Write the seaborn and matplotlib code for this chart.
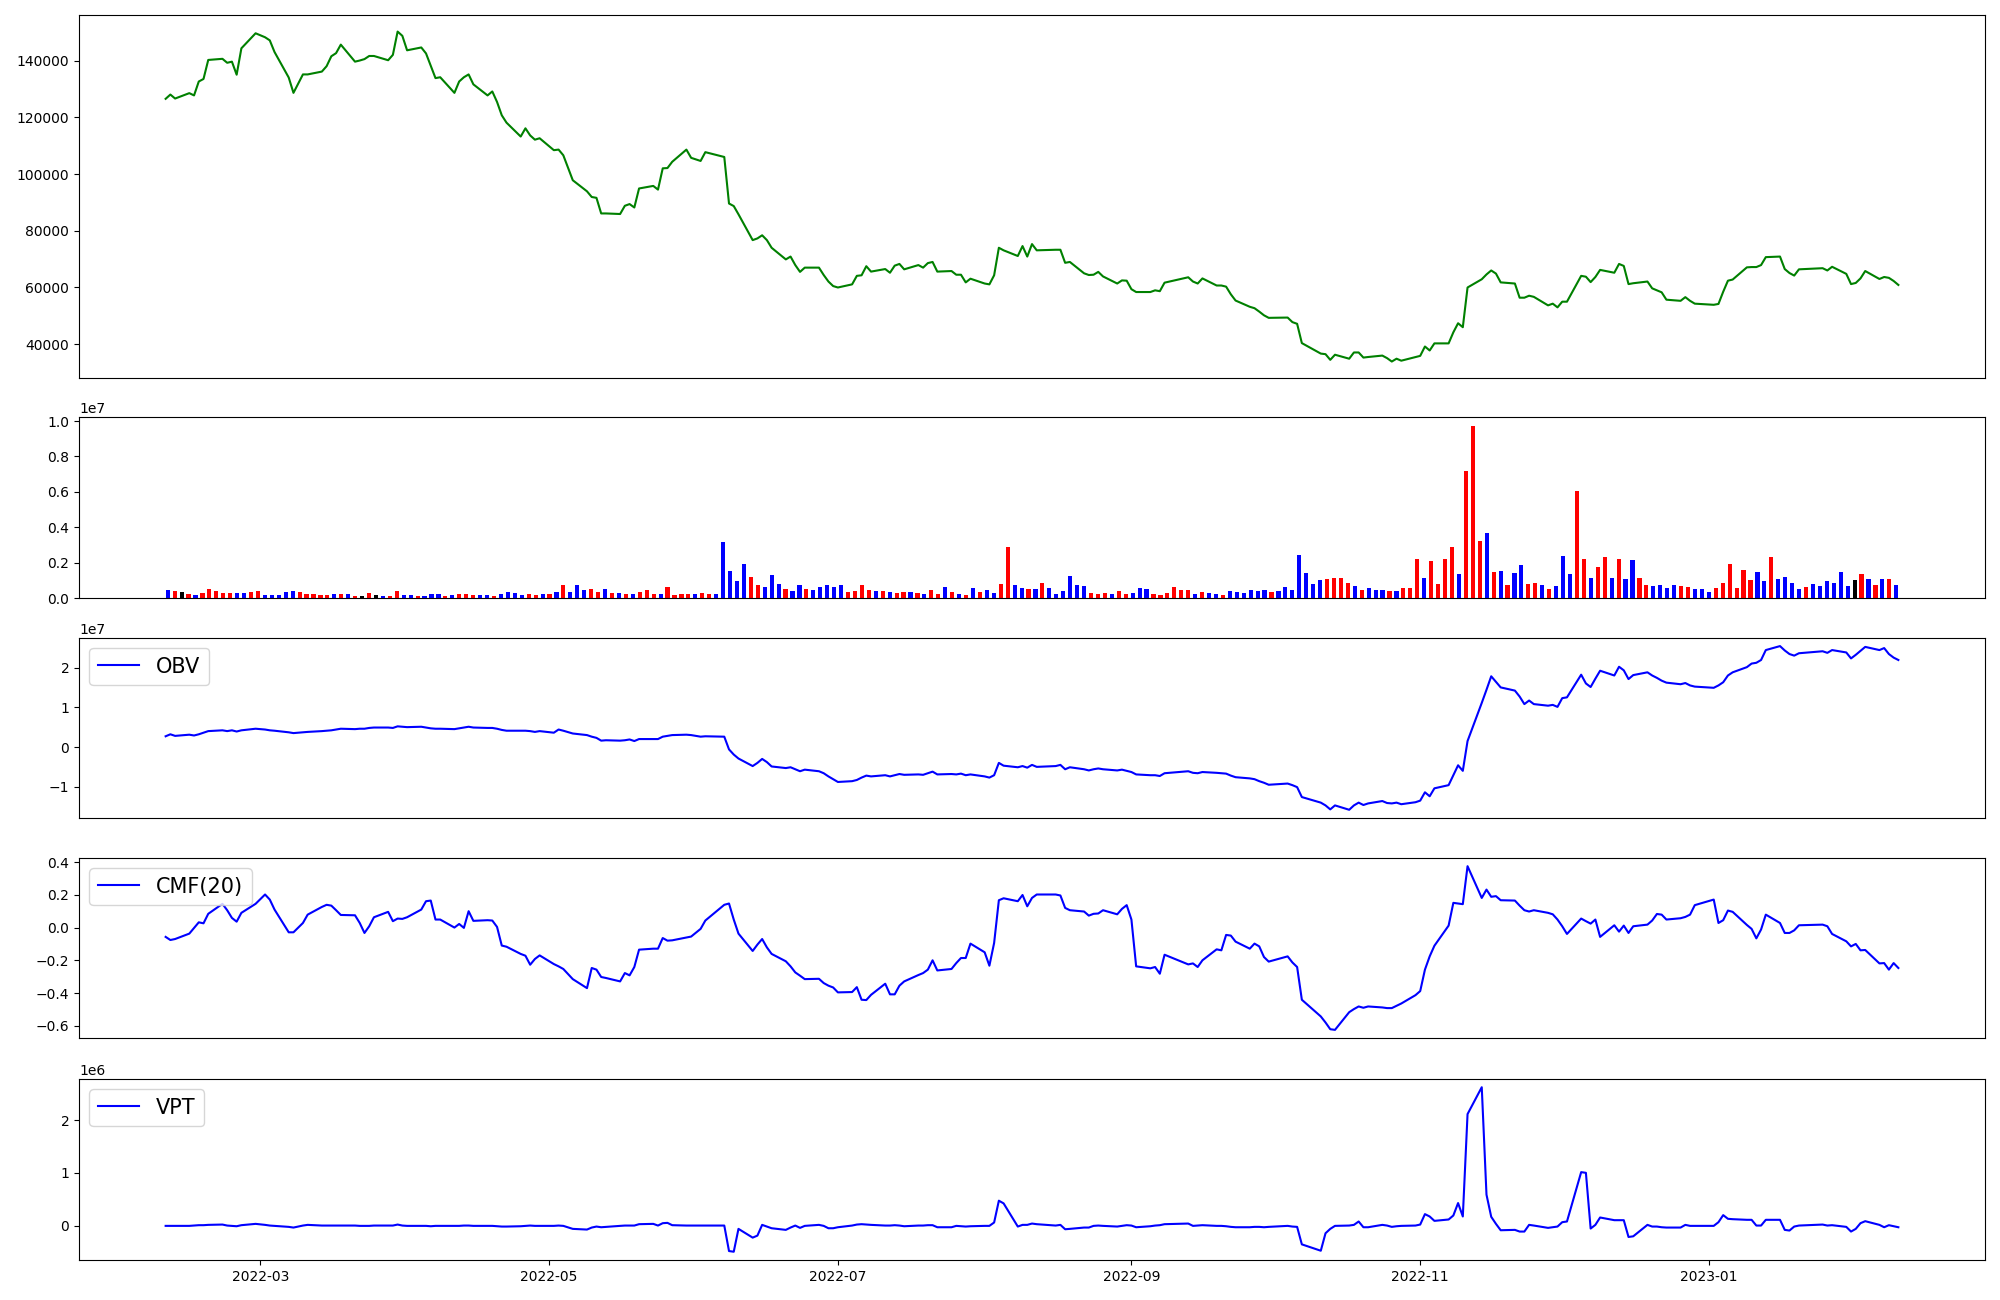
import numpy as np
import pandas as pd
import matplotlib
matplotlib.use("Agg")
import matplotlib.pyplot as plt
import seaborn as sns

# ---------------- data ----------------
market_holidays = ["2022-03-01", "2022-03-09", "2022-05-05", "2022-06-01", "2022-06-06",
                   "2022-08-15", "2022-09-09", "2022-09-12", "2022-10-03", "2022-10-10",
                   "2022-12-30", "2023-01-23", "2023-01-24"]
dates = pd.bdate_range("2022-02-09", "2023-02-10", freq="C", holidays=market_holidays)

close = [
    126500, 128000, 126600, 128500, 127700, 132600, 133500, 140200, 140600, 139200,
    139600, 135000, 144300, 149600, 148200, 147100, 143000, 134000, 128600, 135100,
    135100, 136100, 138000, 141500, 142600, 145600, 139600, 140000, 140500, 141600,
    141600, 140100, 142000, 150200, 148700, 143600, 144600, 142500, 138200, 133800,
    134100, 128600, 132600, 134100, 135100, 131600, 127700, 129100, 125400, 120700,
    118100, 113200, 116100, 113600, 112100, 112600, 108400, 108600, 106600, 97800,
    93900, 91900, 91600, 86100, 86100, 85900, 88800, 89400, 88200, 94900,
    95800, 94500, 102000, 102100, 104300, 108600, 105700, 104600, 107700, 106000,
    89600, 88700, 85800, 76700, 77300, 78400, 76700, 74000, 69900, 70900,
    67900, 65500, 67000, 67000, 64400, 62100, 60500, 60000, 61100, 64100,
    64300, 67500, 65600, 66500, 65200, 67700, 68300, 66400, 67900, 67000,
    68600, 69000, 65600, 65800, 64500, 64500, 61800, 63100, 61400, 61100,
    64300, 74000, 73100, 71100, 74600, 70900, 75300, 73100, 73300, 73300,
    68700, 69000, 65000, 64400, 64500, 65500, 63900, 61400, 62500, 62400,
    59400, 58400, 58400, 59000, 58700, 61700, 63600, 62100, 61400, 63200,
    60700, 60700, 60300, 57600, 55400, 53200, 52700, 51500, 50200, 49300,
    49400, 47800, 47200, 40400, 36700, 36500, 34500, 36300, 34900, 37100,
    37100, 35300, 35500, 36000, 35100, 33900, 34900, 34200, 35500, 35900,
    39200, 37800, 40300, 40300, 44200, 47400, 46000, 60000, 62900, 64600,
    66000, 64900, 61800, 61400, 56400, 56400, 57100, 56700, 53700, 54300,
    53000, 55000, 55000, 64100, 63800, 61900, 63700, 66200, 65200, 68300,
    67600, 61200, 61500, 62100, 59700, 59000, 58300, 55700, 55300, 56600,
    55300, 54300, 53900, 54200, 58500, 62400, 62800, 67100, 67200, 67200,
    67900, 70700, 70900, 66500, 65100, 64200, 66400, 66800, 66000, 67300,
    64800, 61200, 61600, 63200, 65800, 63000, 63700, 63400, 62300, 60900,
]

# volume in millions of shares
volume_m = [
    0.43, 0.38, 0.32, 0.21, 0.15, 0.26, 0.49, 0.38, 0.26, 0.26,
    0.26, 0.26, 0.32, 0.38, 0.15, 0.15, 0.15, 0.32, 0.38, 0.32,
    0.21, 0.21, 0.15, 0.15, 0.21, 0.21, 0.21, 0.09, 0.09, 0.26,
    0.15, 0.09, 0.09, 0.38, 0.15, 0.15, 0.09, 0.09, 0.21, 0.21,
    0.09, 0.15, 0.21, 0.21, 0.15, 0.15, 0.15, 0.09, 0.21, 0.32,
    0.26, 0.15, 0.21, 0.15, 0.21, 0.21, 0.32, 0.71, 0.32, 0.71,
    0.43, 0.49, 0.32, 0.49, 0.26, 0.26, 0.21, 0.21, 0.32, 0.43,
    0.21, 0.21, 0.60, 0.15, 0.21, 0.21, 0.21, 0.26, 0.21, 0.21,
    3.14, 1.50, 0.94, 1.90, 1.17, 0.71, 0.60, 1.28, 0.77, 0.49,
    0.38, 0.71, 0.49, 0.43, 0.60, 0.71, 0.60, 0.71, 0.32, 0.38,
    0.71, 0.43, 0.38, 0.38, 0.32, 0.26, 0.32, 0.32, 0.26, 0.21,
    0.43, 0.21, 0.60, 0.32, 0.21, 0.15, 0.55, 0.32, 0.43, 0.26,
    0.77, 2.91, 0.71, 0.55, 0.49, 0.49, 0.83, 0.55, 0.21, 0.38,
    1.22, 0.71, 0.66, 0.26, 0.21, 0.26, 0.21, 0.38, 0.21, 0.26,
    0.55, 0.49, 0.21, 0.15, 0.26, 0.60, 0.43, 0.43, 0.21, 0.32,
    0.26, 0.21, 0.15, 0.38, 0.32, 0.26, 0.43, 0.38, 0.43, 0.32,
    0.38, 0.60, 0.43, 2.41, 1.39, 0.77, 1.00, 1.05, 1.11, 1.11,
    0.83, 0.66, 0.43, 0.55, 0.43, 0.43, 0.38, 0.38, 0.55, 0.55,
    2.18, 1.11, 2.07, 0.77, 2.18, 2.86, 1.33, 7.20, 9.74, 3.20,
    3.70, 1.45, 1.50, 0.71, 1.39, 1.84, 0.77, 0.83, 0.71, 0.49,
    0.66, 2.35, 1.33, 6.07, 2.18, 1.11, 1.73, 2.29, 1.11, 2.18,
    1.05, 2.12, 1.11, 0.71, 0.66, 0.71, 0.55, 0.71, 0.66, 0.60,
    0.49, 0.49, 0.32, 0.55, 0.83, 1.90, 0.55, 1.56, 1.00, 1.45,
    0.94, 2.29, 1.05, 1.17, 0.83, 0.49, 0.60, 0.77, 0.66, 0.94,
    0.83, 1.45, 0.66, 1.00, 1.33, 1.05, 0.71, 1.05, 1.05, 0.71,
]

# bar colour code per day: r = up, b = down, k = unchanged
bar_dir = ("brkrbrrrrr" "bbrrbbbbbr" "rrrrbrbrkr" "kbrrbbrbbb" "rbrrrbbrbb"
           "bbrrbrbrbb" "brrbrbrbrr" "rbrrrrbrrb" "bbbbrrbbbr" "bbrbbbbbrr"
           "rrbrbrrbrb" "rrbrbrbrbb" "rrbbrbrbbb" "bbbrrrbrrb" "bbrrrrrrbr"
           "bbrbbbbbbr" "bbbbbbbrrr" "rbrbbbrbrr" "rbrrrrbrrr" "brbrbbrrbr"
           "bbbrrbrrbr" "bbrrbbbbrr" "bbbrrrrrrb" "brbbbbrbbb" "bbbkrbrbrb")

# OBV in units of 1e7
obv_e7 = [
    0.27, 0.32, 0.28, 0.31, 0.29, 0.32, 0.36, 0.40, 0.42, 0.40,
    0.42, 0.39, 0.42, 0.46, 0.44, 0.42, 0.41, 0.37, 0.35, 0.37,
    0.38, 0.40, 0.41, 0.42, 0.44, 0.46, 0.45, 0.46, 0.46, 0.48,
    0.49, 0.49, 0.48, 0.52, 0.51, 0.50, 0.51, 0.49, 0.47, 0.46,
    0.46, 0.45, 0.47, 0.49, 0.51, 0.49, 0.48, 0.48, 0.46, 0.43,
    0.41, 0.41, 0.41, 0.40, 0.38, 0.40, 0.36, 0.44, 0.41, 0.34,
    0.30, 0.26, 0.23, 0.16, 0.17, 0.16, 0.17, 0.19, 0.15, 0.20,
    0.20, 0.20, 0.26, 0.28, 0.30, 0.31, 0.30, 0.26, 0.27, 0.26,
    -0.06, -0.19, -0.29, -0.48, -0.40, -0.30, -0.38, -0.49, -0.53, -0.51,
    -0.56, -0.61, -0.57, -0.61, -0.66, -0.74, -0.81, -0.88, -0.86, -0.83,
    -0.77, -0.72, -0.74, -0.71, -0.74, -0.71, -0.68, -0.70, -0.69, -0.70,
    -0.66, -0.62, -0.69, -0.68, -0.69, -0.67, -0.71, -0.69, -0.74, -0.77,
    -0.71, -0.40, -0.47, -0.51, -0.48, -0.52, -0.45, -0.50, -0.48, -0.45,
    -0.56, -0.51, -0.56, -0.59, -0.56, -0.54, -0.56, -0.59, -0.57, -0.60,
    -0.63, -0.69, -0.71, -0.71, -0.73, -0.66, -0.61, -0.65, -0.66, -0.63,
    -0.65, -0.66, -0.67, -0.72, -0.76, -0.79, -0.81, -0.86, -0.90, -0.95,
    -0.92, -0.96, -1.01, -1.26, -1.40, -1.47, -1.57, -1.47, -1.58, -1.47,
    -1.40, -1.46, -1.42, -1.36, -1.41, -1.42, -1.40, -1.44, -1.39, -1.35,
    -1.14, -1.24, -1.04, -0.96, -0.71, -0.46, -0.60, 0.15, 1.11, 1.44,
    1.78, 1.64, 1.50, 1.42, 1.27, 1.08, 1.17, 1.08, 1.04, 1.06,
    1.01, 1.23, 1.25, 1.82, 1.60, 1.51, 1.72, 1.92, 1.80, 2.02,
    1.93, 1.71, 1.81, 1.88, 1.80, 1.74, 1.67, 1.62, 1.58, 1.61,
    1.55, 1.52, 1.49, 1.55, 1.63, 1.80, 1.88, 2.01, 2.10, 2.12,
    2.19, 2.44, 2.54, 2.43, 2.34, 2.30, 2.36, 2.41, 2.37, 2.44,
    2.38, 2.23, 2.32, 2.42, 2.52, 2.44, 2.49, 2.34, 2.25, 2.19,
]

cmf20 = [
    -0.056, -0.075, -0.069, -0.036, -0.001, 0.033, 0.027, 0.085, 0.146, 0.107,
    0.060, 0.037, 0.091, 0.146, 0.203, 0.172, 0.111, -0.028, -0.028, 0.029,
    0.080, 0.127, 0.140, 0.135, 0.107, 0.078, 0.076, 0.029, -0.032, 0.009,
    0.064, 0.097, 0.040, 0.056, 0.054, 0.064, 0.111, 0.162, 0.166, 0.050,
    0.050, 0.001, 0.023, -0.001, 0.101, 0.042, 0.046, 0.044, 0.005, -0.109,
    -0.116, -0.160, -0.171, -0.226, -0.191, -0.169, -0.222, -0.236, -0.252, -0.314,
    -0.369, -0.246, -0.256, -0.301, -0.307, -0.328, -0.277, -0.291, -0.240, -0.134,
    -0.128, -0.128, -0.063, -0.079, -0.077, -0.060, -0.054, -0.007, 0.044, 0.140,
    0.148, 0.050, -0.036, -0.142, -0.103, -0.069, -0.120, -0.160, -0.205, -0.236,
    -0.273, -0.293, -0.314, -0.312, -0.338, -0.354, -0.365, -0.395, -0.393, -0.363,
    -0.440, -0.442, -0.410, -0.342, -0.407, -0.407, -0.354, -0.328, -0.289, -0.277,
    -0.256, -0.199, -0.261, -0.252, -0.216, -0.185, -0.185, -0.097, -0.150, -0.232,
    -0.093, 0.168, 0.180, 0.162, 0.200, 0.131, 0.182, 0.203, 0.203, 0.197,
    0.121, 0.107, 0.099, 0.074, 0.085, 0.087, 0.107, 0.082, 0.115, 0.138,
    0.050, -0.236, -0.248, -0.240, -0.281, -0.165, -0.224, -0.218, -0.240, -0.199,
    -0.132, -0.138, -0.044, -0.048, -0.085, -0.128, -0.097, -0.114, -0.179, -0.207,
    -0.175, -0.212, -0.240, -0.440, -0.542, -0.579, -0.620, -0.624, -0.516, -0.497,
    -0.481, -0.489, -0.481, -0.487, -0.491, -0.491, -0.477, -0.463, -0.412, -0.387,
    -0.256, -0.175, -0.110, 0.013, 0.152, 0.148, 0.144, 0.376, 0.182, 0.233,
    0.189, 0.193, 0.168, 0.166, 0.135, 0.107, 0.099, 0.107, 0.091, 0.082,
    0.050, 0.009, -0.038, 0.056, 0.040, 0.025, 0.050, -0.056, 0.015, -0.024,
    0.013, -0.032, 0.009, 0.019, 0.044, 0.084, 0.080, 0.050, 0.058, 0.066,
    0.080, 0.138, 0.172, 0.029, 0.046, 0.105, 0.097, 0.017, -0.007, -0.065,
    -0.011, 0.080, 0.029, -0.032, -0.032, -0.016, 0.015, 0.019, 0.009, -0.038,
    -0.083, -0.114, -0.099, -0.138, -0.136, -0.218, -0.216, -0.256, -0.216, -0.246,
]

# VPT in units of 1e6
vpt_e6 = [
    -0.004, -0.004, -0.004, -0.004, 0.002, 0.009, 0.009, 0.015, 0.021, 0.002,
    -0.004, -0.011, 0.009, 0.034, 0.015, 0.002, -0.004, -0.023, -0.036, 0.002,
    0.015, 0.002, 0.002, 0.002, 0.002, 0.002, 0.002, -0.004, -0.004, -0.004,
    0.002, 0.002, 0.002, 0.021, 0.002, -0.004, -0.004, -0.004, -0.011, -0.004,
    -0.004, -0.004, -0.004, 0.002, 0.002, -0.004, -0.004, -0.004, -0.011, -0.017,
    -0.017, -0.011, -0.004, 0.002, -0.004, -0.004, -0.004, 0.002, -0.004, -0.061,
    -0.074, -0.036, -0.017, -0.030, -0.023, -0.004, 0.002, 0.002, 0.002, 0.028,
    0.034, 0.002, 0.047, 0.053, 0.009, 0.002, 0.002, 0.002, 0.002, 0.002,
    -0.482, -0.495, -0.061, -0.227, -0.189, 0.015, -0.017, -0.049, -0.080, -0.036,
    0.002, -0.042, -0.004, 0.015, -0.004, -0.049, -0.049, -0.030, 0.002, 0.021,
    0.028, 0.021, 0.015, 0.002, 0.002, 0.009, 0.002, -0.011, 0.002, 0.002,
    0.009, 0.009, -0.030, -0.030, -0.004, -0.011, -0.017, -0.011, -0.004, -0.004,
    0.060, 0.474, 0.423, -0.017, 0.015, 0.015, 0.040, 0.028, 0.002, 0.015,
    -0.068, -0.061, -0.036, -0.036, -0.004, 0.002, -0.004, -0.017, -0.004, 0.009,
    0.002, -0.030, -0.011, 0.002, 0.009, 0.028, 0.040, -0.004, 0.002, 0.009,
    -0.004, -0.004, -0.011, -0.023, -0.030, -0.030, -0.023, -0.023, -0.030, -0.023,
    -0.004, -0.017, -0.023, -0.355, -0.476, -0.144, -0.061, -0.004, 0.002, 0.015,
    0.079, -0.030, -0.030, 0.015, 0.002, -0.023, -0.011, -0.004, 0.002, 0.021,
    0.219, 0.174, 0.091, 0.117, 0.193, 0.429, 0.174, 2.118, 2.628, 0.589,
    0.168, 0.034, -0.087, -0.080, -0.112, -0.112, 0.015, 0.002, -0.042, -0.030,
    -0.017, 0.066, 0.079, 1.016, 1.003, -0.055, 0.015, 0.155, 0.104, 0.104,
    0.104, -0.215, -0.202, 0.015, -0.017, -0.017, -0.030, -0.036, -0.036, 0.015,
    -0.004, -0.004, -0.004, 0.066, 0.200, 0.130, 0.123, 0.111, 0.111, 0.002,
    0.002, 0.111, 0.111, -0.080, -0.093, -0.017, 0.002, 0.021, 0.002, 0.009,
    -0.023, -0.112, -0.061, 0.047, 0.085, 0.015, -0.030, 0.009, -0.011, -0.030,
]

dir_colors = {"r": "red", "b": "blue", "k": "black"}

# ---------------- figure ----------------
n = len(dates)
fig = plt.figure(figsize=(20, 13), dpi=100)
ax1 = fig.add_axes([0.0395, 0.7092, 0.953, 0.2792])
ax2 = fig.add_axes([0.0395, 0.5400, 0.953, 0.1392])
ax3 = fig.add_axes([0.0395, 0.3708, 0.953, 0.1385])
ax4 = fig.add_axes([0.0395, 0.2015, 0.953, 0.1385])
ax5 = fig.add_axes([0.0395, 0.0308, 0.953, 0.1392])

# price
sns.lineplot(x=dates, y=close, color="green", ax=ax1)
ax1.set_xticks([])

# volume (bars drawn by position index)
vol_df = pd.DataFrame({"idx": np.arange(n), "volume": np.array(volume_m) * 1e6,
                       "dir": list(bar_dir)})
sns.barplot(data=vol_df, x="idx", y="volume", hue="dir", palette=dir_colors,
            native_scale=True, dodge=False, saturation=1, errorbar=None,
            width=0.6, legend=False, ax=ax2)
ax2.set_xticks([])

# OBV
sns.lineplot(x=dates, y=np.array(obv_e7) * 1e7, color="blue", label="OBV", ax=ax3)
ax3.set_xticks([])

# CMF
sns.lineplot(x=dates, y=cmf20, color="blue", label="CMF(20)", ax=ax4)
ax4.set_xticks([])

# VPT
sns.lineplot(x=dates, y=np.array(vpt_e6) * 1e6, color="blue", label="VPT", ax=ax5)

for ax in (ax3, ax4, ax5):
    ax.legend(loc="upper left", fontsize=15)
for ax in (ax1, ax2, ax3, ax4, ax5):
    ax.set_xlabel("")
    ax.set_ylabel("")

fig.savefig("out.png", dpi=100)
